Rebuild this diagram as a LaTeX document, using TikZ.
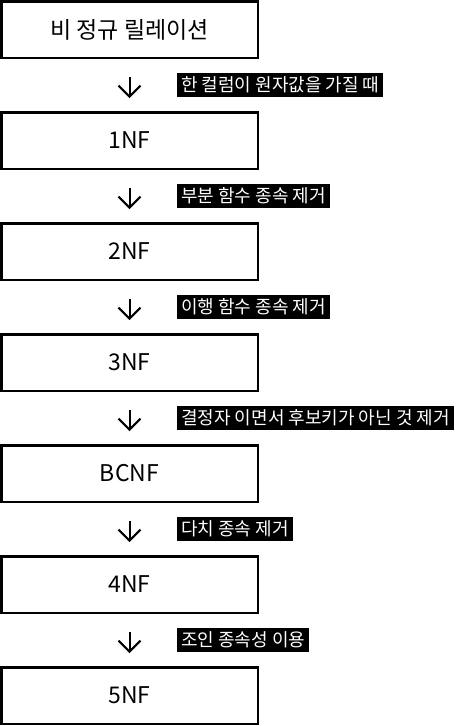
\documentclass[tikz,border=0pt]{standalone}
\usepackage{fontspec}
\setmainfont{Noto Sans CJK KR}
\usetikzlibrary{arrows.meta,positioning}

\begin{document}
\begin{tikzpicture}[
    x=1pt, y=-1pt,
    every node/.style={inner sep=0pt},
    nfbox/.style={draw, line width=2.5pt, minimum width=256.5pt, minimum height=56.5pt, font=\fontsize{23}{26}\selectfont},
    steplabel/.style={fill=black, text=white, anchor=west, minimum height=24pt, inner xsep=4pt, font=\fontsize{18}{20}\selectfont},
    down/.style={line width=2pt, -{Straight Barb[length=11pt, width=22pt, line width=2pt]}, shorten <=18pt, shorten >=13pt},
]
\useasboundingbox (0,0) rectangle (456,726);

\node[nfbox] (raw) at (129.5, 29.5) {비 정규 릴레이션};
\node[nfbox] (nf1) at (129.5, 140.5) {1NF};
\node[nfbox] (nf2) at (129.5, 251.5) {2NF};
\node[nfbox] (nf3) at (129.5, 362.5) {3NF};
\node[nfbox] (bcnf) at (129.5, 473.5) {BCNF};
\node[nfbox] (nf4) at (129.5, 584.5) {4NF};
\node[nfbox] (nf5) at (129.5, 695.5) {5NF};

\node[steplabel] (l1) at (177, 85) {한 컬럼이 원자값을 가질 때};
\node[steplabel] (l2) at (177, 196) {부분 함수 종속 제거};
\node[steplabel] (l3) at (177, 307) {이행 함수 종속 제거};
\node[steplabel] (l4) at (177, 418) {결정자 이면서 후보키가 아닌 것 제거};
\node[steplabel] (l5) at (177, 529) {다치 종속 제거};
\node[steplabel] (l6) at (177, 640) {조인 종속성 이용};

\draw[down] (raw) -- (nf1);
\draw[down] (nf1) -- (nf2);
\draw[down] (nf2) -- (nf3);
\draw[down] (nf3) -- (bcnf);
\draw[down] (bcnf) -- (nf4);
\draw[down] (nf4) -- (nf5);
\end{tikzpicture}
\end{document}
